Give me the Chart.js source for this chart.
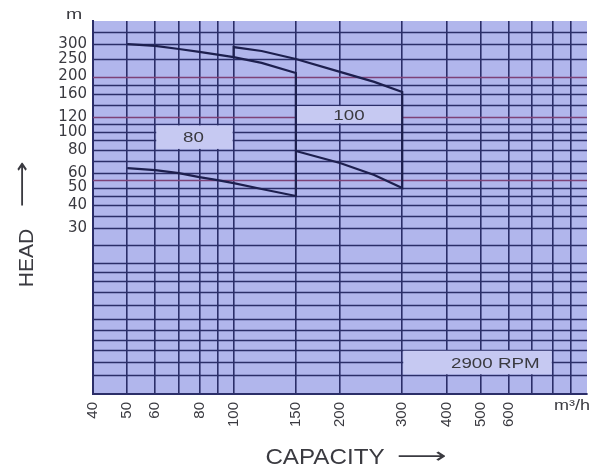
<!DOCTYPE html>
<html>
<head>
<meta charset="utf-8">
<script src="https://cdn.jsdelivr.net/npm/chart.js@4.4.0/dist/chart.umd.min.js"></script>
<style>
  html, body { margin: 0; padding: 0; background: #ffffff; }
  #wrap { width: 603px; height: 469px; }
</style>
</head>
<body>
<div id="wrap"><canvas id="pumpChart"></canvas></div>
<script>
// Capacity axis (m3/h), log scale
const capacityGrid = [40, 50, 60, 70, 80, 90, 100, 150, 200, 300, 400, 500, 600, 700, 800, 900];
const capacityLabels = [40, 50, 60, 80, 100, 150, 200, 300, 400, 500, 600];

// Head axis (m), log scale
const headGrid = [4.8, 5.7, 6.6, 7.5, 8.5, 9.7, 11.5, 13.5, 15.5, 17.5, 19.5, 24.5,
    30, 35, 40, 45, 50, 55, 60, 70, 80, 90, 100, 110, 120, 140, 160, 180, 200, 250, 300, 350];
const headLabels = [30, 40, 50, 60, 80, 100, 120, 160, 200, 250, 300];
const redLines = [200, 120, 55];

// Pump 80 range
const capacity80 = [50, 60, 70, 80, 90, 100, 120, 150];
const head80Upper = [300, 293, 282, 272, 263, 255, 237, 209];
const head80Lower = [63.8, 62.2, 59.9, 57.0, 54.9, 52.9, 49.1, 45.0];

// Pump 100 range
const capacity100Upper = [100, 120, 150, 200, 250, 300];
const head100Upper = [289, 275, 249, 212, 187, 165];
const capacity100Lower = [150, 200, 250, 300];
const head100Lower = [78.9, 67.9, 58.5, 49.7];

// label boxes, in data units
const labelBoxes = [
    { text: '80', x0: 60, x1: 100, y0: 80, y1: 110, tx: 77 },
    { text: '100', x0: 150, x1: 300, y0: 110, y1: 140, tx: 212 },
    { text: '2900 RPM', x0: 300, x1: 800, y0: 4.8, y1: 6.6, tx: 550 }
];

const gridColor = '#2b2e68';
const redColor = '#7e4277';
const curveColor = '#1d1f4e';
const textColor = '#3a3a40';

function toPoints(xs, ys) {
    return xs.map((x, i) => ({ x: x, y: ys[i] }));
}

// outline of each range: upper curve out, lower curve back
const outline80 = toPoints(capacity80, head80Upper)
    .concat(toPoints(capacity80, head80Lower).reverse());
const outline100 = [{ x: 100, y: head80Upper[capacity80.indexOf(100)] }]
    .concat(toPoints(capacity100Upper, head100Upper))
    .concat(toPoints(capacity100Lower, head100Lower).reverse());

function stretchedText(ctx, text, x, y, font, sx) {
    ctx.save();
    ctx.font = font;
    ctx.fillStyle = textColor;
    ctx.textAlign = 'center';
    ctx.textBaseline = 'middle';
    ctx.translate(x, y);
    ctx.scale(sx, 1);
    ctx.fillText(text, 0, 0);
    ctx.restore();
}

function arrowText(ctx, x, y, len, angle) {
    ctx.save();
    ctx.font = '22px "DejaVu Sans"';
    ctx.fillStyle = textColor;
    ctx.textAlign = 'center';
    ctx.textBaseline = 'middle';
    ctx.translate(x, y);
    ctx.rotate(angle);
    const w = ctx.measureText('\u27F6').width || len;
    ctx.scale(len / w, 1);
    ctx.fillText('\u27F6', 0, 0);
    ctx.restore();
}

const chartDecor = {
    id: 'chartDecor',
    beforeDraw(chart) {
        const { ctx, chartArea: a } = chart;
        ctx.save();
        ctx.fillStyle = '#b1b6ec';
        ctx.fillRect(a.left, a.top, a.right - a.left, a.bottom - a.top);
        ctx.restore();
    },
    beforeDatasetsDraw(chart) {
        const { ctx, chartArea: a } = chart;
        const xs = chart.scales.x, ys = chart.scales.y;
        // horizontal head grid, a few lines come out reddish in the scan
        ctx.save();
        ctx.lineWidth = 1.3;
        headGrid.forEach(v => {
            const y = Math.round(ys.getPixelForValue(v)) + 0.5;
            ctx.strokeStyle = redLines.includes(v) ? redColor : gridColor;
            ctx.beginPath();
            ctx.moveTo(a.left, y);
            ctx.lineTo(a.right, y);
            ctx.stroke();
        });
        ctx.restore();
        labelBoxes.forEach(b => {
            const l = xs.getPixelForValue(b.x0), r = xs.getPixelForValue(b.x1);
            const t = ys.getPixelForValue(b.y1), btm = ys.getPixelForValue(b.y0);
            ctx.save();
            ctx.fillStyle = '#c6c9f2';
            ctx.fillRect(l + 1, t + 1, r - l - 2, btm - t - 2);
            ctx.restore();
            stretchedText(ctx, b.text, xs.getPixelForValue(b.tx),
                ys.getPixelForValue(Math.sqrt(b.y0 * b.y1)) + 1, '15px "Liberation Sans"', 1.25);
        });
    },
    afterDraw(chart) {
        const { ctx } = chart;
        stretchedText(ctx, 'm', 74, 15, '15px "Liberation Sans"', 1.3);
        stretchedText(ctx, 'm\u00B3/h', 572, 406, '15px "Liberation Sans"', 1.2);
        stretchedText(ctx, 'CAPACITY', 325, 458, '22px "Liberation Sans"', 1.1);
        arrowText(ctx, 422, 457, 50, 0);
        ctx.save();
        ctx.translate(27, 258);
        ctx.rotate(-Math.PI / 2);
        stretchedText(ctx, 'HEAD', 0, 0, '21px "Liberation Sans"', 1.0);
        ctx.restore();
        arrowText(ctx, 23, 184, 46, -Math.PI / 2);
    }
};

window.onload = function() {
    new Chart(
        document.getElementById('pumpChart'),
        {
            type: 'scatter',
            data: {
                datasets: [
                    {
                        label: '80',
                        data: outline80,
                        showLine: true,
                        borderColor: curveColor,
                        borderWidth: 2.2,
                        pointRadius: 0,
                        tension: 0
                    },
                    {
                        label: '100',
                        data: outline100,
                        showLine: true,
                        borderColor: curveColor,
                        borderWidth: 2.2,
                        pointRadius: 0,
                        tension: 0
                    }
                ]
            },
            options: {
                responsive: true,
                maintainAspectRatio: false,
                animation: false,
                layout: {
                    padding: { left: 0, right: 16, top: 21, bottom: 0 }
                },
                plugins: {
                    legend: { display: false },
                    tooltip: { enabled: false },
                    title: { display: false }
                },
                scales: {
                    x: {
                        type: 'logarithmic',
                        min: 40,
                        max: 1000,
                        afterBuildTicks: (axis) => {
                            axis.ticks = capacityGrid.map(v => ({ value: v }));
                        },
                        afterFit: (axis) => { axis.height = 75; },
                        grid: {
                            color: gridColor,
                            lineWidth: 1.6,
                            drawTicks: false
                        },
                        border: { color: gridColor, width: 2 },
                        ticks: {
                            autoSkip: false,
                            minRotation: 90,
                            maxRotation: 90,
                            padding: 8,
                            color: textColor,
                            font: { family: 'Liberation Sans', size: 15 },
                            callback: (v) => capacityLabels.includes(v) ? String(v) : ''
                        }
                    },
                    y: {
                        type: 'logarithmic',
                        min: 3.8,
                        max: 400,
                        afterBuildTicks: (axis) => {
                            axis.ticks = headGrid.map(v => ({ value: v }));
                        },
                        afterFit: (axis) => { axis.width = 93; },
                        grid: {
                            display: false,
                            drawTicks: false
                        },
                        border: { color: gridColor, width: 2 },
                        ticks: {
                            autoSkip: false,
                            padding: 6,
                            color: textColor,
                            font: { family: 'DejaVu Sans', size: 15 },
                            callback: (v) => headLabels.includes(v) ? String(v) : ''
                        }
                    }
                }
            },
            plugins: [chartDecor]
        }
    );
};
</script>
</body>
</html>
